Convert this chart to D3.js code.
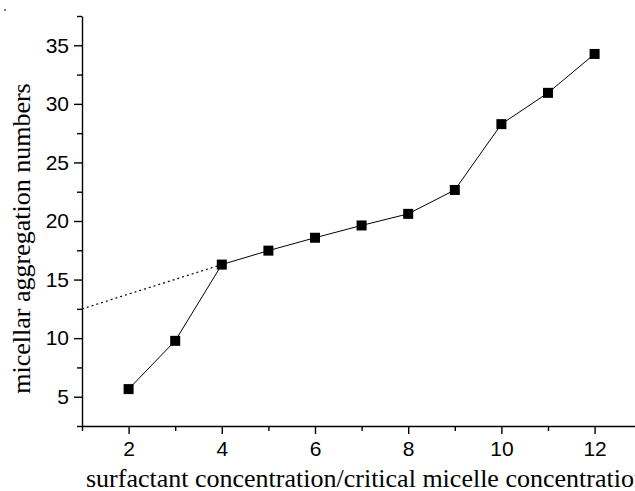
<!DOCTYPE html>
<html>
<head>
<meta charset="utf-8">
<script src="https://cdn.jsdelivr.net/npm/d3@7"></script>
<style>
  body { margin: 0; background: #fff; }
  .tick text { font-family: "Liberation Sans", Arial, sans-serif; font-size: 21px; fill: #000; }
  .axis path, .axis line { stroke: #000; stroke-width: 1.4px; }
</style>
</head>
<body>
<div id="chart"></div>
<script>
// data
var ratio = [2, 3, 4, 5, 6, 7, 8, 9, 10, 11, 12];
var aggNumber = [5.65, 9.77, 16.28, 17.47, 18.57, 19.62, 20.61, 22.65, 28.27, 30.94, 34.26];
// dotted extrapolation towards the left axis
var fitX = [1, 4];
var fitY = [12.5, 16.28];
var xMajor = [2, 4, 6, 8, 10, 12];
var xMinor = [1, 3, 5, 7, 9, 11, 13];
var yMajor = [5, 10, 15, 20, 25, 30, 35];
var yMinor = [2.5, 7.5, 12.5, 17.5, 22.5, 27.5, 32.5, 37.5];

var margin = {top: 16, right: 0, bottom: 65, left: 82},
  W = 635, H = 491,
  height = H - margin.top - margin.bottom;

var svg = d3.select("#chart")
  .append("svg")
    .attr("width", W)
    .attr("height", H);

var g = svg.append("g")
  .attr("transform", "translate(" + margin.left + "," + margin.top + ")");

// x axis runs past the right edge of the picture (up to 13)
var x = d3.scaleLinear()
  .domain([1, 13])
  .range([0, 12 * 46.6]);

var y = d3.scaleLinear()
  .domain([2.5, 37.5])
  .range([height, 0]);

// minor ticks first
g.append("g")
  .attr("class", "axis")
  .attr("transform", "translate(0," + height + ")")
  .call(d3.axisBottom(x).tickValues(xMinor).tickSize(5).tickFormat(""))
  .select(".domain").remove();

g.append("g")
  .attr("class", "axis")
  .call(d3.axisLeft(y).tickValues(yMinor).tickSize(5).tickFormat(""))
  .select(".domain").remove();

// major ticks
g.append("g")
  .attr("class", "axis")
  .attr("transform", "translate(0," + height + ")")
  .call(d3.axisBottom(x).tickValues(xMajor).tickSize(8).tickSizeOuter(0).tickPadding(7).tickFormat(d3.format("d")));

g.append("g")
  .attr("class", "axis")
  .call(d3.axisLeft(y).tickValues(yMajor).tickSize(8).tickSizeOuter(0).tickPadding(5).tickFormat(d3.format("d")));

// dotted line
g.append("path")
  .datum(d3.zip(fitX, fitY))
  .attr("fill", "none")
  .attr("stroke", "#000")
  .attr("stroke-width", 1.2)
  .attr("stroke-dasharray", "2,3")
  .attr("d", d3.line().x(function(d) { return x(d[0]); }).y(function(d) { return y(d[1]); }));

// data line
var pts = d3.zip(ratio, aggNumber);
g.append("path")
  .datum(pts)
  .attr("fill", "none")
  .attr("stroke", "#000")
  .attr("stroke-width", 1)
  .attr("d", d3.line().x(function(d) { return x(d[0]); }).y(function(d) { return y(d[1]); }));

var s = 10;
g.selectAll("rect.pt")
  .data(pts)
  .enter()
  .append("rect")
    .attr("class", "pt")
    .attr("x", function(d) { return x(d[0]) - s / 2; })
    .attr("y", function(d) { return y(d[1]) - s / 2; })
    .attr("width", s)
    .attr("height", s)
    .attr("fill", "#000");

// axis titles
svg.append("text")
  .attr("x", 86)
  .attr("y", 487)
  .style("font-family", "'Liberation Serif', 'Times New Roman', serif")
  .style("font-size", "26px")
  .text("surfactant concentration/critical micelle concentration");

svg.append("text")
  .attr("transform", "translate(30," + 238.5 + ") rotate(-90)")
  .attr("text-anchor", "middle")
  .style("font-family", "'Liberation Serif', 'Times New Roman', serif")
  .style("font-size", "26px")
  .text("micellar aggregation numbers");

// stray speck in the top-left corner of the original
svg.append("line")
  .attr("x1", 4).attr("x2", 6).attr("y1", 10).attr("y2", 10)
  .attr("stroke", "#000").attr("stroke-width", 1);
</script>
</body>
</html>
